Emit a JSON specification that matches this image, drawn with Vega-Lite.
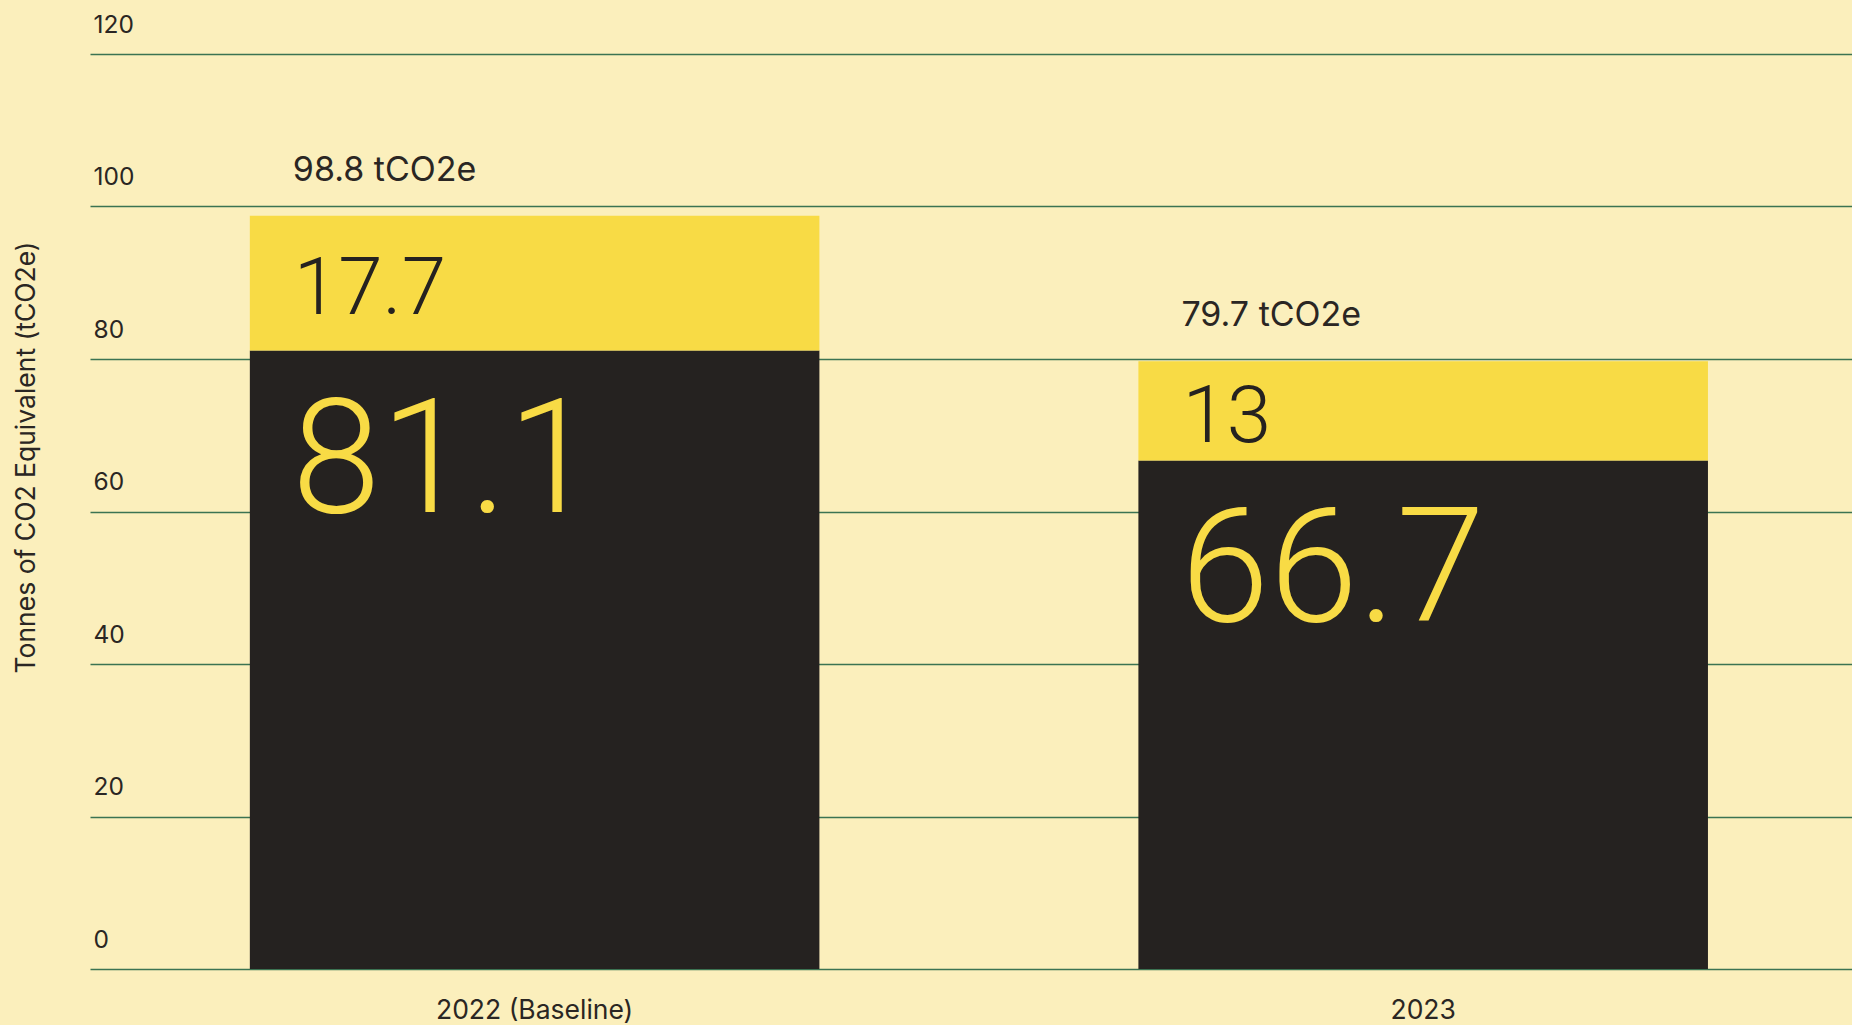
{
  "$schema": "https://vega.github.io/schema/vega-lite/v6.json",
  "autosize": "none",
  "width": 1762,
  "height": 915,
  "padding": {"left": 90, "top": 54, "right": 0, "bottom": 56},
  "background": "#FBEFBC",
  "config": {"view": {"stroke": null}, "font": "Inter"},
  "datasets": {
    "segments": [
      {"year": "2022 (Baseline)", "segment": "Main", "value": 81.1},
      {"year": "2022 (Baseline)", "segment": "Other", "value": 17.7},
      {"year": "2023", "segment": "Main", "value": 66.7},
      {"year": "2023", "segment": "Other", "value": 13}
    ],
    "totals": [
      {"year": "2022 (Baseline)", "total": 98.8, "label": "98.8 tCO2e"},
      {"year": "2023", "total": 79.7, "label": "79.7 tCO2e"}
    ]
  },
  "layer": [
    {
      "data": {"name": "segments"},
      "transform": [
        {"stack": "value", "groupby": ["year"], "as": ["v0", "v1"], "sort": [{"field": "segment", "order": "ascending"}]}
      ],
      "mark": {"type": "bar"},
      "encoding": {
        "x": {
          "field": "year", "type": "nominal", "sort": null,
          "scale": {"paddingInner": 0.359, "paddingOuter": 0.171, "align": 0.526},
          "axis": {"title": null, "labelAngle": 0, "domain": false, "ticks": false, "labelPadding": 41, "labelBaseline": "middle", "labelFontSize": 26.5, "labelColor": "#2A2623", "labelFont": "Inter", "labelLimit": 600}
        },
        "y": {
          "field": "v0", "type": "quantitative",
          "scale": {"domain": [0, 120], "nice": false},
          "axis": {
            "title": "Tonnes of CO2 Equivalent (tCO2e)",
            "values": [0, 20, 40, 60, 80, 100, 120],
            "grid": true, "gridColor": "#3B7352", "gridWidth": 1.4,
            "domain": false, "ticks": false,
            "labelAlign": "left", "labelPadding": -3, "labelOffset": -29, "labelBaseline": "middle",
            "labelFontSize": 24.5, "labelColor": "#2A2623", "labelFont": "Inter", "labelFlush": false, "labelOverlap": false,
            "titleX": -64, "titleY": 403, "titleAngle": -90, "titleAlign": "center", "titleBaseline": "middle",
            "titleFontSize": 26.5, "titleFontWeight": "normal", "titleColor": "#2A2623", "titleFont": "Inter"
          }
        },
        "y2": {"field": "v1"},
        "color": {
          "field": "segment", "type": "nominal",
          "scale": {"domain": ["Main", "Other"], "range": ["#252220", "#F8DB45"]},
          "legend": null
        }
      }
    },
    {
      "data": {"name": "segments"},
      "transform": [
        {"stack": "value", "groupby": ["year"], "as": ["v0", "v1"], "sort": [{"field": "segment", "order": "ascending"}]},
        {"filter": "datum.segment === 'Other'"},
        {"calculate": "(datum.v0 + datum.v1) / 2", "as": "mid"}
      ],
      "mark": {"type": "text", "align": "left", "baseline": "middle", "dx": 44, "dy": 7, "fontSize": 80, "font": "Roboto", "fontWeight": 300, "color": "#252220"},
      "encoding": {
        "x": {"field": "year", "type": "nominal", "sort": null, "bandPosition": 0},
        "y": {"field": "mid", "type": "quantitative"},
        "text": {"field": "value", "type": "quantitative"}
      }
    },
    {
      "data": {"name": "segments"},
      "transform": [
        {"filter": "datum.segment === 'Main'"}
      ],
      "mark": {"type": "text", "align": "left", "baseline": "middle", "dx": 42, "dy": 113, "fontSize": 160, "font": "Roboto", "fontWeight": 300, "color": "#F8DB45"},
      "encoding": {
        "x": {"field": "year", "type": "nominal", "sort": null, "bandPosition": 0},
        "y": {"field": "value", "type": "quantitative"},
        "text": {"field": "value", "type": "quantitative"}
      }
    },
    {
      "data": {"name": "totals"},
      "mark": {"type": "text", "align": "left", "baseline": "middle", "dx": 43, "dy": -45, "fontSize": 34, "font": "Inter", "color": "#2A2623"},
      "encoding": {
        "x": {"field": "year", "type": "nominal", "sort": null, "bandPosition": 0},
        "y": {"field": "total", "type": "quantitative"},
        "text": {"field": "label", "type": "nominal"}
      }
    }
  ]
}
